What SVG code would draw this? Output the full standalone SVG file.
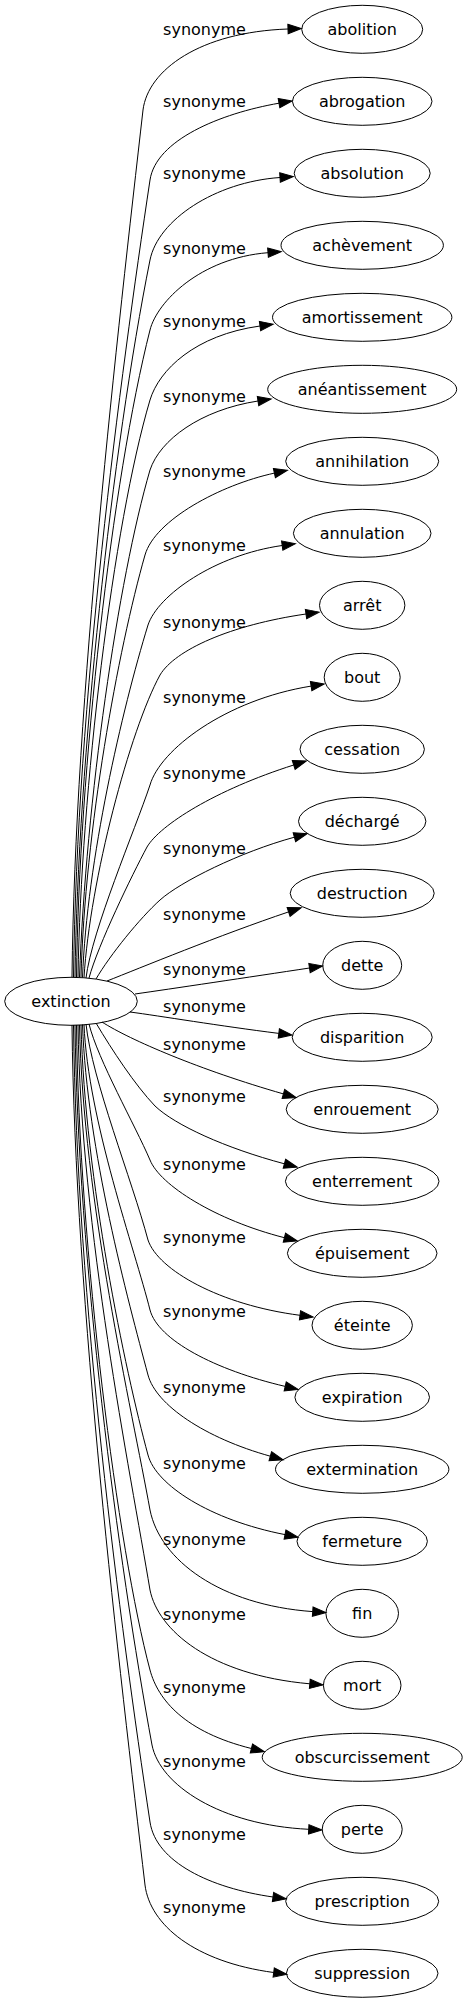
<svg xmlns="http://www.w3.org/2000/svg" width="467" height="2003" viewBox="0 0 467 2003">
<defs>
<style>
.n ellipse{fill:none;stroke:#000;stroke-width:1}
.n text{font-family:"DejaVu Sans",Verdana,sans-serif;font-size:16px;text-anchor:middle;fill:#000}
.e path{fill:none;stroke:#000;stroke-width:1;marker-end:url(#ah)}
.e text{font-family:"DejaVu Sans",Verdana,sans-serif;font-size:16px;text-anchor:middle;fill:#000}
</style>
<marker id="ah" markerUnits="userSpaceOnUse" markerWidth="15" markerHeight="11" refX="0" refY="4.67" orient="auto" overflow="visible"><path d="M0,0 L13.3,4.67 L0,9.33 Z" fill="#000" stroke="#000" stroke-width="1"/></marker>
</defs>
<rect width="467" height="2003" fill="#fff"/>
<g id="connectors" class="e">
<path d="M72,977 C75,700 118,330 143,110 C148,70 200,32 288,29"/><text x="204.5" y="35">synonyme</text>
<path d="M73.5,977 C77,700 120,380 150,180 C156,140 220,113.5 279,103.2"/><text x="204.5" y="106.7">synonyme</text>
<path d="M75,977 C78,760 112,450 150,260 C158,220 215,182 280,177.5"/><text x="204.5" y="179">synonyme</text>
<path d="M76.5,977 C79,770 112,480 150,330 C157,302 200,258 268,252.7"/><text x="204.5" y="254.3">synonyme</text>
<path d="M78,977 C81,790 113,525 150,400 C159,370 195,335 260,326"/><text x="204.5" y="327.3">synonyme</text>
<path d="M79.5,977 C86,800 118,580 150,470 C160,440 200,410 258,401"/><text x="204.5" y="401.7">synonyme</text>
<path d="M81,977 C85,830 118,650 145,555 C155,520 220,485 274.4,473.1"/><text x="204.5" y="476.7">synonyme</text>
<path d="M82.5,977.5 C87,860 122,710 148,625 C158,595 215,555 282.2,545.5"/><text x="204.5" y="551">synonyme</text>
<path d="M84,977.5 C90,880 130,730 160,675 C175,650 230,625 306,614"/><text x="204.5" y="628.3">synonyme</text>
<path d="M86,978 C92,930 135,830 150,785 C160,750 225,700 311.1,686.1"/><text x="204.5" y="702.7">synonyme</text>
<path d="M89,978 C98,945 132,875 147,847 C160,825 215,790 293.7,765"/><text x="204.5" y="779.3">synonyme</text>
<path d="M96,979 C110,955 140,918 160,900 C180,882 240,852 294.4,837.2"/><text x="204.5" y="854">synonyme</text>
<path d="M107,981 C140,968 220,935 288.6,911.9"/><text x="204.5" y="920">synonyme</text>
<path d="M135,994 C170,989 250,977 309.5,968"/><text x="204.5" y="975">synonyme</text>
<path d="M130,1012 C160,1016 220,1026 278.8,1033.4"/><text x="204.5" y="1012.3">synonyme</text>
<path d="M102,1022 C130,1040 200,1070 283.4,1093.9"/><text x="204.5" y="1050">synonyme</text>
<path d="M96,1023 C112,1050 135,1085 155,1106 C175,1125 225,1148 284.4,1163.8"/><text x="204.5" y="1102">synonyme</text>
<path d="M89,1024 C98,1060 135,1125 150,1160 C160,1185 215,1220 284.4,1237.7"/><text x="204.5" y="1170">synonyme</text>
<path d="M86,1024 C92,1080 132,1180 148,1240 C158,1270 220,1305 300,1315.3"/><text x="204.5" y="1242.7">synonyme</text>
<path d="M84,1024.5 C88,1120 135,1250 150,1310 C158,1340 215,1370 285.2,1386.4"/><text x="204.5" y="1317.3">synonyme</text>
<path d="M82.5,1024.5 C87,1150 128,1300 148,1375 C156,1405 205,1438 270.3,1456.2"/><text x="204.5" y="1392.7">synonyme</text>
<path d="M81,1025 C85,1180 125,1370 148,1455 C156,1485 210,1520 285,1534.6"/><text x="204.5" y="1469.3">synonyme</text>
<path d="M79.5,1025 C83,1200 132,1410 150,1510 C160,1560 220,1605 312.7,1611.6"/><text x="204.5" y="1545">synonyme</text>
<path d="M78,1025 C81,1230 130,1470 150,1590 C158,1630 210,1675 309.8,1683.8"/><text x="204.5" y="1620">synonyme</text>
<path d="M76.5,1025 C79,1250 118,1550 150,1670 C158,1700 185,1732 251.4,1748.5"/><text x="204.5" y="1693.3">synonyme</text>
<path d="M75,1025 C78,1260 118,1560 152,1745 C160,1785 220,1825 308.7,1829.3"/><text x="204.5" y="1766.7">synonyme</text>
<path d="M73.5,1025 C77,1302 120,1622 150,1822 C156,1862 210,1888 273,1897"/><text x="204.5" y="1840">synonyme</text>
<path d="M72,1025 C75,1302 120,1672 145,1885 C150,1925 195,1962 273.7,1972.5"/><text x="204.5" y="1913.3">synonyme</text>
</g>
<g id="extinction" class="n"><ellipse cx="71" cy="1001.3" rx="66.3" ry="24"/><text x="71" y="1006.9">extinction</text></g>
<g id="abolition" class="n"><ellipse cx="362.2" cy="29.3" rx="60.5" ry="24"/><text x="362.2" y="34.9">abolition</text></g>
<g id="abrogation" class="n"><ellipse cx="362.2" cy="101.3" rx="69.8" ry="24"/><text x="362.2" y="106.9">abrogation</text></g>
<g id="absolution" class="n"><ellipse cx="362.2" cy="173.3" rx="68" ry="24"/><text x="362.2" y="178.9">absolution</text></g>
<g id="achevement" class="n"><ellipse cx="362.2" cy="245.3" rx="81.2" ry="24"/><text x="362.2" y="250.9">achèvement</text></g>
<g id="amortissement" class="n"><ellipse cx="362.2" cy="317.3" rx="89.7" ry="24"/><text x="362.2" y="322.9">amortissement</text></g>
<g id="aneantissement" class="n"><ellipse cx="362.2" cy="389.3" rx="94.5" ry="24"/><text x="362.2" y="394.9">anéantissement</text></g>
<g id="annihilation" class="n"><ellipse cx="362.2" cy="461.3" rx="76.5" ry="24"/><text x="362.2" y="466.9">annihilation</text></g>
<g id="annulation" class="n"><ellipse cx="362.2" cy="533.3" rx="68.8" ry="24"/><text x="362.2" y="538.9">annulation</text></g>
<g id="arret" class="n"><ellipse cx="362.2" cy="605.3" rx="42.7" ry="24"/><text x="362.2" y="610.9">arrêt</text></g>
<g id="bout" class="n"><ellipse cx="362.2" cy="677.3" rx="38" ry="24"/><text x="362.2" y="682.9">bout</text></g>
<g id="cessation" class="n"><ellipse cx="362.2" cy="749.3" rx="62.2" ry="24"/><text x="362.2" y="754.9">cessation</text></g>
<g id="decharge" class="n"><ellipse cx="362.2" cy="821.3" rx="63.7" ry="24"/><text x="362.2" y="826.9">déchargé</text></g>
<g id="destruction" class="n"><ellipse cx="362.2" cy="893.3" rx="72" ry="24"/><text x="362.2" y="898.9">destruction</text></g>
<g id="dette" class="n"><ellipse cx="362.2" cy="965.3" rx="39.5" ry="24"/><text x="362.2" y="970.9">dette</text></g>
<g id="disparition" class="n"><ellipse cx="362.2" cy="1037.3" rx="70" ry="24"/><text x="362.2" y="1042.9">disparition</text></g>
<g id="enrouement" class="n"><ellipse cx="362.2" cy="1109.3" rx="76" ry="24"/><text x="362.2" y="1114.9">enrouement</text></g>
<g id="enterrement" class="n"><ellipse cx="362.2" cy="1181.3" rx="76.8" ry="24"/><text x="362.2" y="1186.9">enterrement</text></g>
<g id="epuisement" class="n"><ellipse cx="362.2" cy="1253.3" rx="74.8" ry="24"/><text x="362.2" y="1258.9">épuisement</text></g>
<g id="eteinte" class="n"><ellipse cx="362.2" cy="1325.3" rx="50.2" ry="24"/><text x="362.2" y="1330.9">éteinte</text></g>
<g id="expiration" class="n"><ellipse cx="362.2" cy="1397.3" rx="67.3" ry="24"/><text x="362.2" y="1402.9">expiration</text></g>
<g id="extermination" class="n"><ellipse cx="362.2" cy="1469.3" rx="86.7" ry="24"/><text x="362.2" y="1474.9">extermination</text></g>
<g id="fermeture" class="n"><ellipse cx="362.2" cy="1541.3" rx="65.2" ry="24"/><text x="362.2" y="1546.9">fermeture</text></g>
<g id="fin" class="n"><ellipse cx="362.2" cy="1613.3" rx="36.3" ry="24"/><text x="362.2" y="1618.9">fin</text></g>
<g id="mort" class="n"><ellipse cx="362.2" cy="1685.3" rx="38.8" ry="24"/><text x="362.2" y="1690.9">mort</text></g>
<g id="obscurcissement" class="n"><ellipse cx="362.2" cy="1757.3" rx="100" ry="24"/><text x="362.2" y="1762.9">obscurcissement</text></g>
<g id="perte" class="n"><ellipse cx="362.2" cy="1829.3" rx="40" ry="24"/><text x="362.2" y="1834.9">perte</text></g>
<g id="prescription" class="n"><ellipse cx="362.2" cy="1901.3" rx="76.5" ry="24"/><text x="362.2" y="1906.9">prescription</text></g>
<g id="suppression" class="n"><ellipse cx="362.2" cy="1973.3" rx="75.8" ry="24"/><text x="362.2" y="1978.9">suppression</text></g>
</svg>
